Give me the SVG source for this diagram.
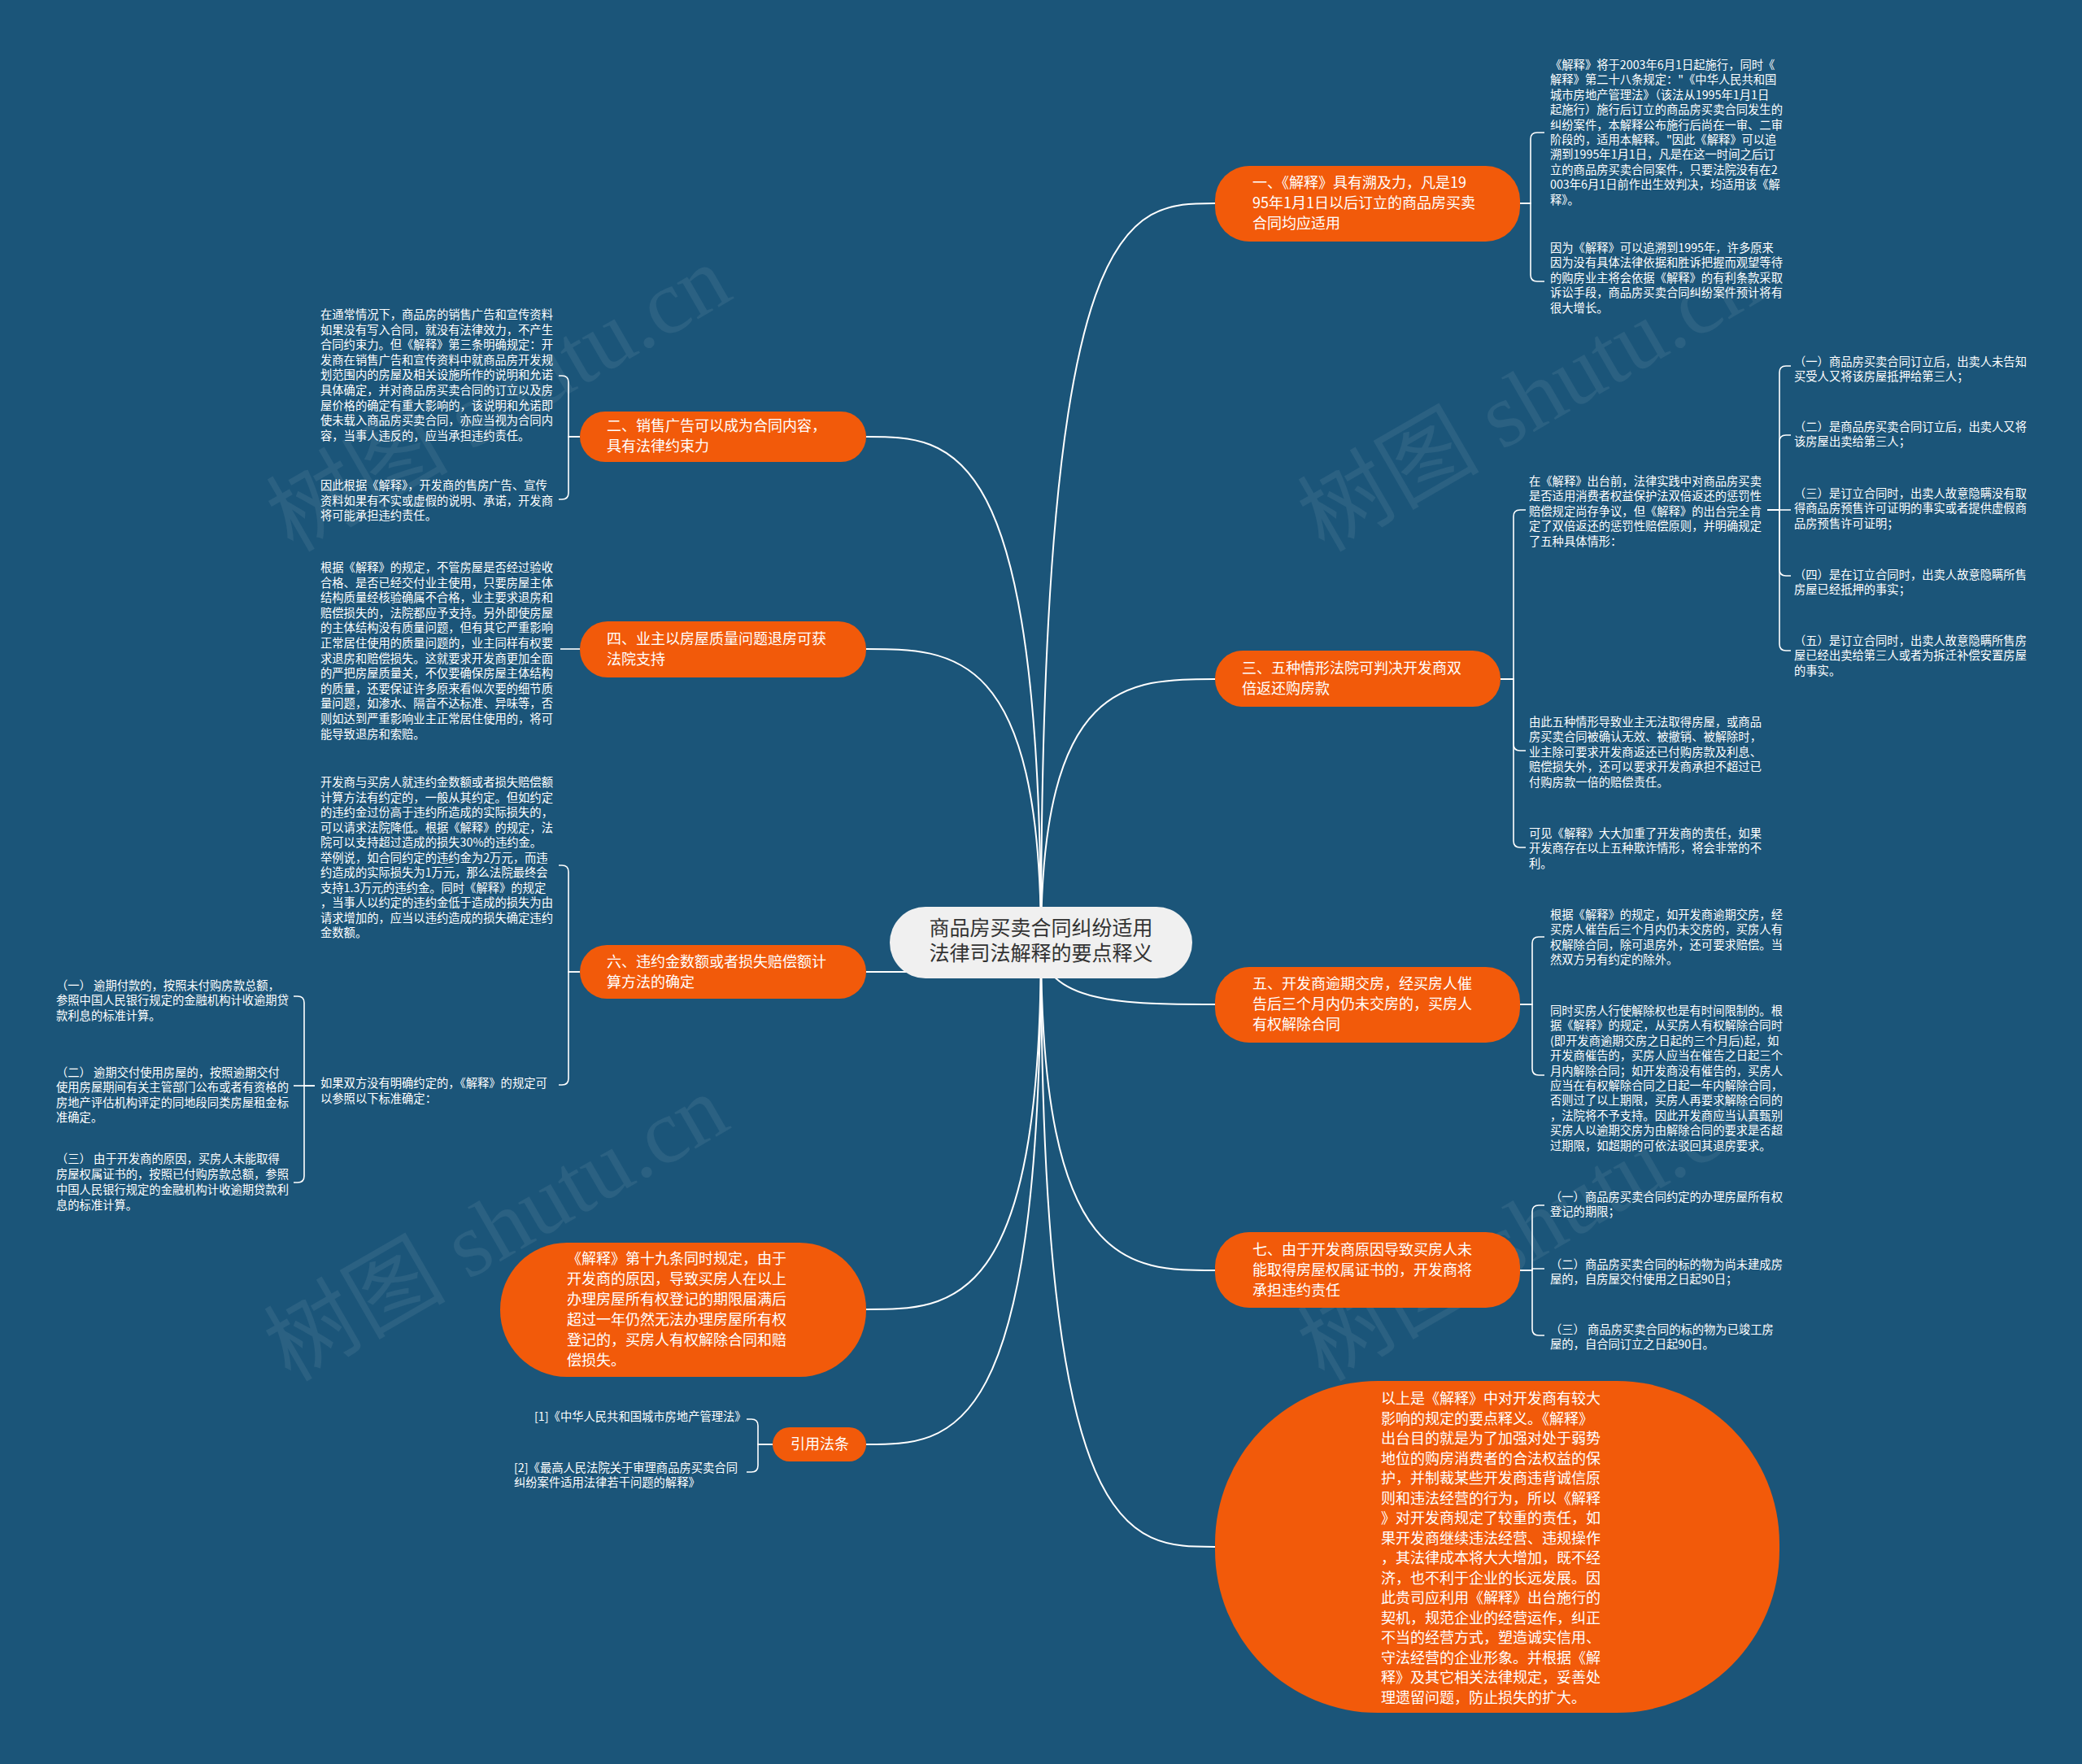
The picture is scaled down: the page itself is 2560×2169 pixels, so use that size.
<svg xmlns="http://www.w3.org/2000/svg" width="2560" height="2169" viewBox="0 0 2560 2169">
<style>
.bg{fill:#1b5579}
.ln{fill:none;stroke:#ffffff;stroke-width:2}
.br{fill:none;stroke:#ffffff;stroke-width:1.6}
.on{fill:#f25a0a}
.ot{font-family:"Noto Sans CJK SC","Noto Sans",sans-serif;font-size:18px;fill:#ffffff}
.st{font-family:"Noto Sans CJK SC","Noto Sans",sans-serif;font-size:14.3px;fill:#ffffff}
.ct{font-family:"Noto Sans CJK SC","Noto Sans",sans-serif;font-size:25px;fill:#333333}
.wm{font-family:"Liberation Serif","Noto Sans CJK SC",serif;font-size:112px;fill:#ffffff;fill-opacity:0.07}
</style>
<rect class="bg" x="0" y="0" width="2560" height="2169"/>
<g id="watermarks">
<text class="wm" transform="translate(360 680) rotate(-30)">树图 shutu.cn</text>
<text class="wm" transform="translate(1628 680) rotate(-30)">树图 shutu.cn</text>
<text class="wm" transform="translate(357 1700) rotate(-30)">树图 shutu.cn</text>
<text class="wm" transform="translate(1628 1700) rotate(-30)">树图 shutu.cn</text>
</g>
<g id="connectors">
<path class="ln" d="M1280 1159 C1280 250 1387 250 1494 250"/>
<path class="ln" d="M1280 1159 C1280 835 1387 835 1494 835"/>
<path class="ln" d="M1280 1159 C1280 1235 1387 1235 1494 1235"/>
<path class="ln" d="M1280 1159 C1280 1562 1387 1562 1494 1562"/>
<path class="ln" d="M1280 1159 C1280 1902 1387 1902 1494 1902"/>
<path class="ln" d="M1280 1159 C1280 537 1172 537 1065 537"/>
<path class="ln" d="M1280 1159 C1280 798 1172 798 1065 798"/>
<path class="ln" d="M1280 1159 C1280 1195 1172 1195 1065 1195"/>
<path class="ln" d="M1280 1159 C1280 1610 1172 1610 1065 1610"/>
<path class="ln" d="M1280 1159 C1280 1776 1172 1776 1065 1776"/>
<path class="br" d="M1869 250 H1882 V171 Q1882 163 1890 163 H1899"/>
<path class="br" d="M1869 250 H1882 V338 Q1882 346 1890 346 H1899"/>
<path class="br" d="M1845 835 H1861 V635 Q1861 627 1869 627 H1876"/>
<path class="br" d="M1845 835 H1861 V915 Q1861 923 1869 923 H1876"/>
<path class="br" d="M1845 835 H1861 V1034 Q1861 1042 1869 1042 H1876"/>
<path class="br" d="M2173 627 H2188 V458 Q2188 450 2196 450 H2202"/>
<path class="br" d="M2173 627 H2188 V543 Q2188 535 2196 535 H2202"/>
<path class="br" d="M2173 627 H2202"/>
<path class="br" d="M2173 627 H2188 V700 Q2188 708 2196 708 H2202"/>
<path class="br" d="M2173 627 H2188 V792 Q2188 800 2196 800 H2202"/>
<path class="br" d="M1869 1235 H1884 V1160 Q1884 1152 1892 1152 H1899"/>
<path class="br" d="M1869 1235 H1884 V1314 Q1884 1322 1892 1322 H1899"/>
<path class="br" d="M1869 1562 H1884 V1490 Q1884 1482 1892 1482 H1899"/>
<path class="br" d="M1869 1562 H1884 V1560 H1899"/>
<path class="br" d="M1869 1562 H1884 V1634 Q1884 1642 1892 1642 H1899"/>
<path class="br" d="M713 537 H699 V470 Q699 462 691 462 H687"/>
<path class="br" d="M713 537 H699 V606 Q699 614 691 614 H687"/>
<path class="br" d="M713 798 H689"/>
<path class="br" d="M713 1195 H699 V1072 Q699 1064 691 1064 H687"/>
<path class="br" d="M713 1195 H699 V1326 Q699 1334 691 1334 H687"/>
<path class="br" d="M387 1335 H374 V1233 Q374 1225 366 1225 H361"/>
<path class="br" d="M387 1335 H361"/>
<path class="br" d="M387 1335 H374 V1446 Q374 1454 366 1454 H361"/>
<path class="br" d="M950 1776 H932 V1753 Q932 1745 924 1745 H918"/>
<path class="br" d="M950 1776 H932 V1802 Q932 1810 924 1810 H918"/>
</g>
<g id="root">
<rect x="1094" y="1115" width="372" height="88" rx="44" fill="#f0f0f0"/>
<text class="ct" text-anchor="middle"><tspan x="1280" y="1150">商品房买卖合同纠纷适用</tspan><tspan x="1280" y="1181">法律司法解释的要点释义</tspan></text>
</g>
<g id="node1">
<rect class="on" x="1494" y="204" width="375" height="93" rx="42"/>
<text class="ot"><tspan x="1540" y="231">一、《解释》具有溯及力，凡是19</tspan><tspan x="1540" y="256">95年1月1日以后订立的商品房买卖</tspan><tspan x="1540" y="281">合同均应适用</tspan></text>
</g>
<g id="node1a">
<text class="st"><tspan x="1906" y="85">《解释》将于2003年6月1日起施行，同时《</tspan><tspan x="1906" dy="18.4">解释》第二十八条规定："《中华人民共和国</tspan><tspan x="1906" dy="18.4">城市房地产管理法》（该法从1995年1月1日</tspan><tspan x="1906" dy="18.4">起施行）施行后订立的商品房买卖合同发生的</tspan><tspan x="1906" dy="18.4">纠纷案件，本解释公布施行后尚在一审、二审</tspan><tspan x="1906" dy="18.4">阶段的，适用本解释。"因此《解释》可以追</tspan><tspan x="1906" dy="18.4">溯到1995年1月1日，凡是在这一时间之后订</tspan><tspan x="1906" dy="18.4">立的商品房买卖合同案件，只要法院没有在2</tspan><tspan x="1906" dy="18.4">003年6月1日前作出生效判决，均适用该《解</tspan><tspan x="1906" dy="18.4">释》。</tspan></text>
</g>
<g id="node1b">
<text class="st"><tspan x="1906" y="310">因为《解释》可以追溯到1995年，许多原来</tspan><tspan x="1906" dy="18.4">因为没有具体法律依据和胜诉把握而观望等待</tspan><tspan x="1906" dy="18.4">的购房业主将会依据《解释》的有利条款采取</tspan><tspan x="1906" dy="18.4">诉讼手段，商品房买卖合同纠纷案件预计将有</tspan><tspan x="1906" dy="18.4">很大增长。</tspan></text>
</g>
<g id="node3">
<rect class="on" x="1494" y="800" width="351" height="69" rx="34"/>
<text class="ot"><tspan x="1527" y="828">三、五种情形法院可判决开发商双</tspan><tspan x="1527" y="853">倍返还购房款</tspan></text>
</g>
<g id="node3a">
<text class="st"><tspan x="1880" y="597">在《解释》出台前，法律实践中对商品房买卖</tspan><tspan x="1880" dy="18.4">是否适用消费者权益保护法双倍返还的惩罚性</tspan><tspan x="1880" dy="18.4">赔偿规定尚存争议，但《解释》的出台完全肯</tspan><tspan x="1880" dy="18.4">定了双倍返还的惩罚性赔偿原则，并明确规定</tspan><tspan x="1880" dy="18.4">了五种具体情形：</tspan></text>
</g>
<g id="node3a1">
<text class="st"><tspan x="2206" y="450">（一）商品房买卖合同订立后，出卖人未告知</tspan><tspan x="2206" dy="18.4">买受人又将该房屋抵押给第三人；</tspan></text>
</g>
<g id="node3a2">
<text class="st"><tspan x="2206" y="530">（二）是商品房买卖合同订立后，出卖人又将</tspan><tspan x="2206" dy="18.4">该房屋出卖给第三人；</tspan></text>
</g>
<g id="node3a3">
<text class="st"><tspan x="2206" y="612">（三）是订立合同时，出卖人故意隐瞒没有取</tspan><tspan x="2206" dy="18.4">得商品房预售许可证明的事实或者提供虚假商</tspan><tspan x="2206" dy="18.4">品房预售许可证明；</tspan></text>
</g>
<g id="node3a4">
<text class="st"><tspan x="2206" y="712">（四）是在订立合同时，出卖人故意隐瞒所售</tspan><tspan x="2206" dy="18.4">房屋已经抵押的事实；</tspan></text>
</g>
<g id="node3a5">
<text class="st"><tspan x="2206" y="793">（五）是订立合同时，出卖人故意隐瞒所售房</tspan><tspan x="2206" dy="18.4">屋已经出卖给第三人或者为拆迁补偿安置房屋</tspan><tspan x="2206" dy="18.4">的事实。</tspan></text>
</g>
<g id="node3b">
<text class="st"><tspan x="1880" y="893">由此五种情形导致业主无法取得房屋，或商品</tspan><tspan x="1880" dy="18.4">房买卖合同被确认无效、被撤销、被解除时，</tspan><tspan x="1880" dy="18.4">业主除可要求开发商返还已付购房款及利息、</tspan><tspan x="1880" dy="18.4">赔偿损失外，还可以要求开发商承担不超过已</tspan><tspan x="1880" dy="18.4">付购房款一倍的赔偿责任。</tspan></text>
</g>
<g id="node3c">
<text class="st"><tspan x="1880" y="1030">可见《解释》大大加重了开发商的责任，如果</tspan><tspan x="1880" dy="18.4">开发商存在以上五种欺诈情形，将会非常的不</tspan><tspan x="1880" dy="18.4">利。</tspan></text>
</g>
<g id="node5">
<rect class="on" x="1494" y="1189" width="375" height="93" rx="42"/>
<text class="ot"><tspan x="1540" y="1216">五、开发商逾期交房，经买房人催</tspan><tspan x="1540" y="1241">告后三个月内仍未交房的，买房人</tspan><tspan x="1540" y="1266">有权解除合同</tspan></text>
</g>
<g id="node5a">
<text class="st"><tspan x="1906" y="1130">根据《解释》的规定，如开发商逾期交房，经</tspan><tspan x="1906" dy="18.4">买房人催告后三个月内仍未交房的，买房人有</tspan><tspan x="1906" dy="18.4">权解除合同，除可退房外，还可要求赔偿。当</tspan><tspan x="1906" dy="18.4">然双方另有约定的除外。</tspan></text>
</g>
<g id="node5b">
<text class="st"><tspan x="1906" y="1248">同时买房人行使解除权也是有时间限制的。根</tspan><tspan x="1906" dy="18.4">据《解释》的规定，从买房人有权解除合同时</tspan><tspan x="1906" dy="18.4">(即开发商逾期交房之日起的三个月后)起，如</tspan><tspan x="1906" dy="18.4">开发商催告的，买房人应当在催告之日起三个</tspan><tspan x="1906" dy="18.4">月内解除合同；如开发商没有催告的，买房人</tspan><tspan x="1906" dy="18.4">应当在有权解除合同之日起一年内解除合同，</tspan><tspan x="1906" dy="18.4">否则过了以上期限，买房人再要求解除合同的</tspan><tspan x="1906" dy="18.4">，法院将不予支持。因此开发商应当认真甄别</tspan><tspan x="1906" dy="18.4">买房人以逾期交房为由解除合同的要求是否超</tspan><tspan x="1906" dy="18.4">过期限，如超期的可依法驳回其退房要求。</tspan></text>
</g>
<g id="node7">
<rect class="on" x="1494" y="1515" width="375" height="93" rx="42"/>
<text class="ot"><tspan x="1540" y="1543">七、由于开发商原因导致买房人未</tspan><tspan x="1540" y="1568">能取得房屋权属证书的，开发商将</tspan><tspan x="1540" y="1593">承担违约责任</tspan></text>
</g>
<g id="node7a">
<text class="st"><tspan x="1906" y="1477">（一）商品房买卖合同约定的办理房屋所有权</tspan><tspan x="1906" dy="18.4">登记的期限；</tspan></text>
</g>
<g id="node7b">
<text class="st"><tspan x="1906" y="1560">（二）商品房买卖合同的标的物为尚未建成房</tspan><tspan x="1906" dy="18.4">屋的，自房屋交付使用之日起90日；</tspan></text>
</g>
<g id="node7c">
<text class="st"><tspan x="1906" y="1640">（三） 商品房买卖合同的标的物为已竣工房</tspan><tspan x="1906" dy="18.4">屋的，自合同订立之日起90日。</tspan></text>
</g>
<g id="node10">
<rect class="on" x="1494" y="1698" width="694" height="408" rx="200"/>
<text class="ot"><tspan x="1698" y="1726">以上是《解释》中对开发商有较大</tspan><tspan x="1698" dy="24.5">影响的规定的要点释义。《解释》</tspan><tspan x="1698" dy="24.5">出台目的就是为了加强对处于弱势</tspan><tspan x="1698" dy="24.5">地位的购房消费者的合法权益的保</tspan><tspan x="1698" dy="24.5">护，并制裁某些开发商违背诚信原</tspan><tspan x="1698" dy="24.5">则和违法经营的行为，所以《解释</tspan><tspan x="1698" dy="24.5">》对开发商规定了较重的责任，如</tspan><tspan x="1698" dy="24.5">果开发商继续违法经营、违规操作</tspan><tspan x="1698" dy="24.5">，其法律成本将大大增加，既不经</tspan><tspan x="1698" dy="24.5">济，也不利于企业的长远发展。因</tspan><tspan x="1698" dy="24.5">此贵司应利用《解释》出台施行的</tspan><tspan x="1698" dy="24.5">契机，规范企业的经营运作，纠正</tspan><tspan x="1698" dy="24.5">不当的经营方式，塑造诚实信用、</tspan><tspan x="1698" dy="24.5">守法经营的企业形象。并根据《解</tspan><tspan x="1698" dy="24.5">释》及其它相关法律规定，妥善处</tspan><tspan x="1698" dy="24.5">理遗留问题，防止损失的扩大。</tspan></text>
</g>
<g id="node2">
<rect class="on" x="713" y="506" width="352" height="62" rx="31"/>
<text class="ot"><tspan x="746" y="530">二、销售广告可以成为合同内容，</tspan><tspan x="746" y="555">具有法律约束力</tspan></text>
</g>
<g id="node2a">
<text class="st"><tspan x="394" y="392">在通常情况下，商品房的销售广告和宣传资料</tspan><tspan x="394" dy="18.6">如果没有写入合同，就没有法律效力，不产生</tspan><tspan x="394" dy="18.6">合同约束力。但《解释》第三条明确规定：开</tspan><tspan x="394" dy="18.6">发商在销售广告和宣传资料中就商品房开发规</tspan><tspan x="394" dy="18.6">划范围内的房屋及相关设施所作的说明和允诺</tspan><tspan x="394" dy="18.6">具体确定，并对商品房买卖合同的订立以及房</tspan><tspan x="394" dy="18.6">屋价格的确定有重大影响的，该说明和允诺即</tspan><tspan x="394" dy="18.6">使未载入商品房买卖合同，亦应当视为合同内</tspan><tspan x="394" dy="18.6">容，当事人违反的，应当承担违约责任。</tspan></text>
</g>
<g id="node2b">
<text class="st"><tspan x="394" y="602">因此根据《解释》，开发商的售房广告、宣传</tspan><tspan x="394" dy="18.6">资料如果有不实或虚假的说明、承诺，开发商</tspan><tspan x="394" dy="18.6">将可能承担违约责任。</tspan></text>
</g>
<g id="node4">
<rect class="on" x="713" y="764" width="352" height="69" rx="34"/>
<text class="ot"><tspan x="746" y="792">四、业主以房屋质量问题退房可获</tspan><tspan x="746" y="817">法院支持</tspan></text>
</g>
<g id="node4a">
<text class="st"><tspan x="394" y="703">根据《解释》的规定，不管房屋是否经过验收</tspan><tspan x="394" dy="18.6">合格、是否已经交付业主使用，只要房屋主体</tspan><tspan x="394" dy="18.6">结构质量经核验确属不合格，业主要求退房和</tspan><tspan x="394" dy="18.6">赔偿损失的，法院都应予支持。另外即使房屋</tspan><tspan x="394" dy="18.6">的主体结构没有质量问题，但有其它严重影响</tspan><tspan x="394" dy="18.6">正常居住使用的质量问题的，业主同样有权要</tspan><tspan x="394" dy="18.6">求退房和赔偿损失。这就要求开发商更加全面</tspan><tspan x="394" dy="18.6">的严把房屋质量关，不仅要确保房屋主体结构</tspan><tspan x="394" dy="18.6">的质量，还要保证许多原来看似次要的细节质</tspan><tspan x="394" dy="18.6">量问题，如渗水、隔音不达标准、异味等，否</tspan><tspan x="394" dy="18.6">则如达到严重影响业主正常居住使用的，将可</tspan><tspan x="394" dy="18.6">能导致退房和索赔。</tspan></text>
</g>
<g id="node6">
<rect class="on" x="713" y="1162" width="352" height="66" rx="33"/>
<text class="ot"><tspan x="746" y="1189">六、违约金数额或者损失赔偿额计</tspan><tspan x="746" y="1214">算方法的确定</tspan></text>
</g>
<g id="node6a">
<text class="st"><tspan x="394" y="967">开发商与买房人就违约金数额或者损失赔偿额</tspan><tspan x="394" dy="18.5">计算方法有约定的，一般从其约定。但如约定</tspan><tspan x="394" dy="18.5">的违约金过份高于违约所造成的实际损失的，</tspan><tspan x="394" dy="18.5">可以请求法院降低。根据《解释》的规定，法</tspan><tspan x="394" dy="18.5">院可以支持超过造成的损失30%的违约金。</tspan><tspan x="394" dy="18.5">举例说，如合同约定的违约金为2万元，而违</tspan><tspan x="394" dy="18.5">约造成的实际损失为1万元，那么法院最终会</tspan><tspan x="394" dy="18.5">支持1.3万元的违约金。同时《解释》的规定</tspan><tspan x="394" dy="18.5">，当事人以约定的违约金低于造成的损失为由</tspan><tspan x="394" dy="18.5">请求增加的，应当以违约造成的损失确定违约</tspan><tspan x="394" dy="18.5">金数额。</tspan></text>
</g>
<g id="node6b">
<text class="st"><tspan x="394" y="1337">如果双方没有明确约定的，《解释》的规定可</tspan><tspan x="394" dy="18.5">以参照以下标准确定：</tspan></text>
</g>
<g id="node6b1">
<text class="st"><tspan x="69" y="1217">（一） 逾期付款的，按照未付购房款总额，</tspan><tspan x="69" dy="18.4">参照中国人民银行规定的金融机构计收逾期贷</tspan><tspan x="69" dy="18.4">款利息的标准计算。</tspan></text>
</g>
<g id="node6b2">
<text class="st"><tspan x="69" y="1324">（二） 逾期交付使用房屋的，按照逾期交付</tspan><tspan x="69" dy="18.4">使用房屋期间有关主管部门公布或者有资格的</tspan><tspan x="69" dy="18.4">房地产评估机构评定的同地段同类房屋租金标</tspan><tspan x="69" dy="18.4">准确定。</tspan></text>
</g>
<g id="node6b3">
<text class="st"><tspan x="69" y="1430">（三） 由于开发商的原因，买房人未能取得</tspan><tspan x="69" dy="18.9">房屋权属证书的，按照已付购房款总额，参照</tspan><tspan x="69" dy="18.9">中国人民银行规定的金融机构计收逾期贷款利</tspan><tspan x="69" dy="18.9">息的标准计算。</tspan></text>
</g>
<g id="node8">
<rect class="on" x="615" y="1528" width="450" height="165" rx="82"/>
<text class="ot"><tspan x="697" y="1554">《解释》第十九条同时规定，由于</tspan><tspan x="697" dy="25">开发商的原因，导致买房人在以上</tspan><tspan x="697" dy="25">办理房屋所有权登记的期限届满后</tspan><tspan x="697" dy="25">超过一年仍然无法办理房屋所有权</tspan><tspan x="697" dy="25">登记的，买房人有权解除合同和赔</tspan><tspan x="697" dy="25">偿损失。</tspan></text>
</g>
<g id="node9">
<rect class="on" x="950" y="1755" width="115" height="42" rx="21"/>
<text class="ot" text-anchor="middle" x="1008" y="1782">引用法条</text>
</g>
<g id="node9a">
<text class="st" x="657" y="1747">[1]《中华人民共和国城市房地产管理法》</text>
</g>
<g id="node9b">
<text class="st"><tspan x="632" y="1810">[2]《最高人民法院关于审理商品房买卖合同</tspan><tspan x="632" dy="18.4">纠纷案件适用法律若干问题的解释》</tspan></text>
</g>
</svg>
